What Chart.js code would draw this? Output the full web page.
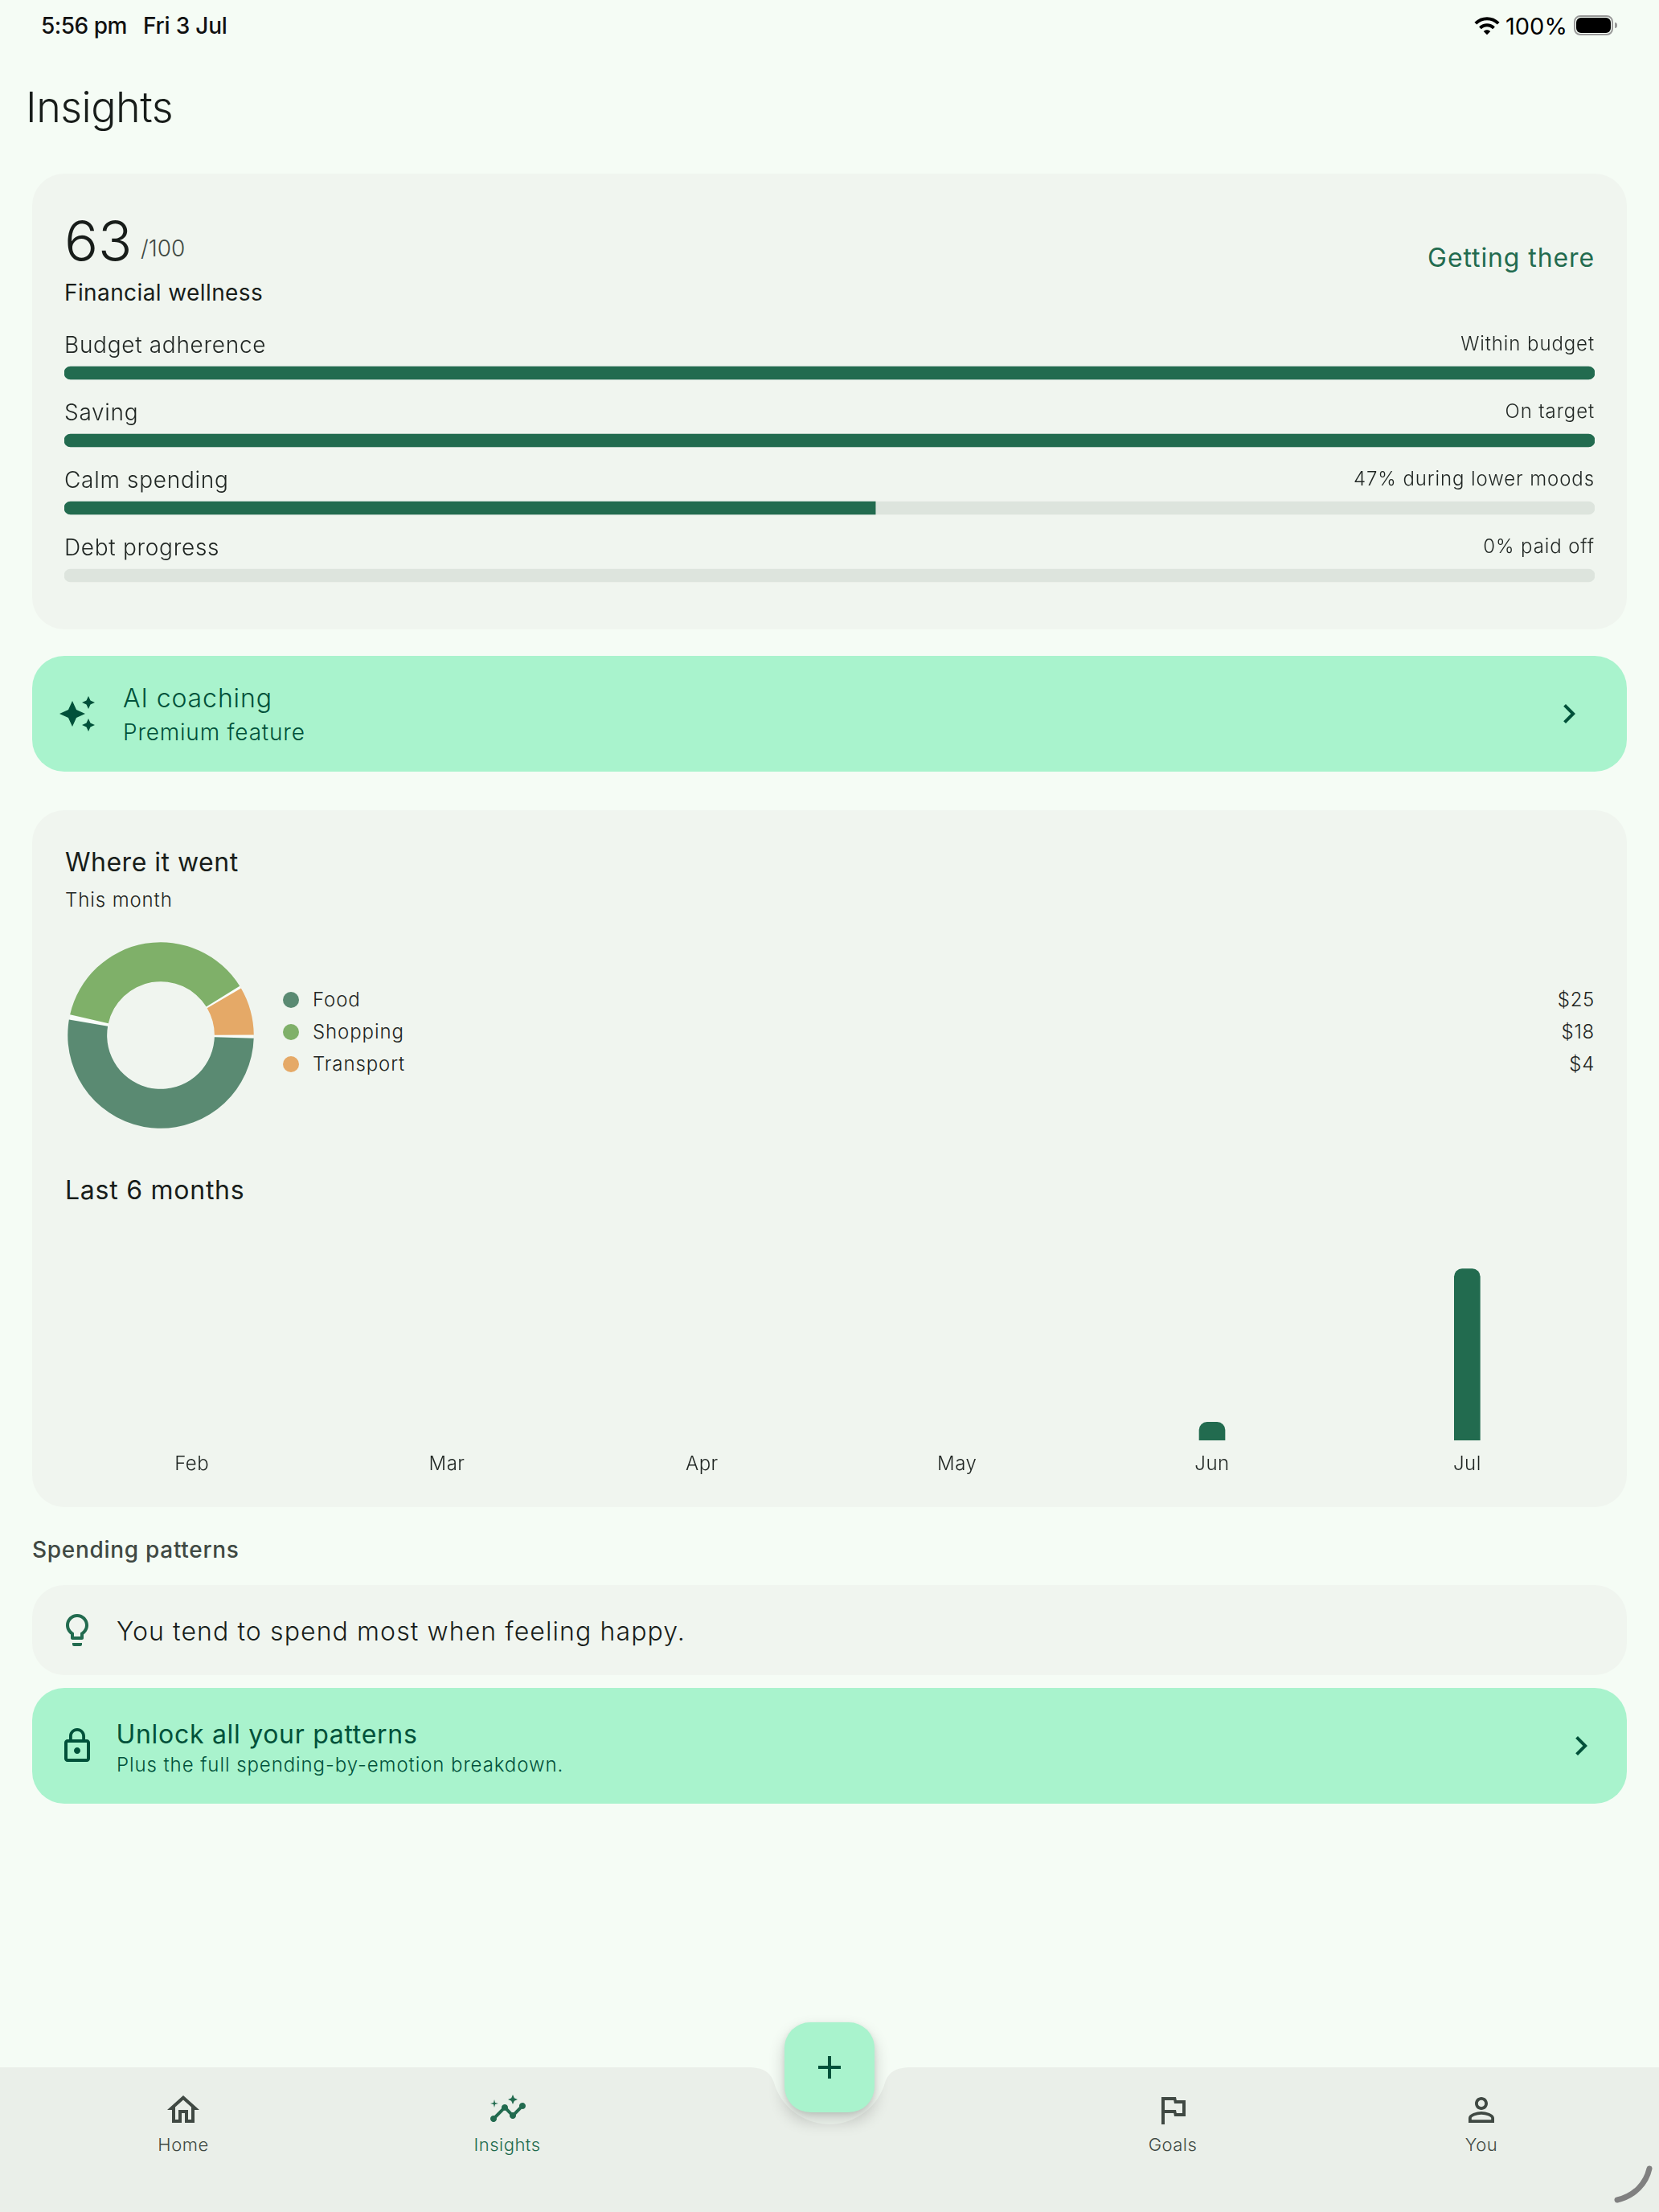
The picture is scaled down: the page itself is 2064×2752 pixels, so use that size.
<!DOCTYPE html>
<html><head><meta charset="utf-8">
<script src="https://cdn.jsdelivr.net/npm/chart.js@4"></script>
<style>
html,body{margin:0;padding:0;background:#f5fcf5;width:2064px;height:2752px;overflow:hidden;font-family:Inter,sans-serif;color:#181d1a}
.box{position:absolute;left:40px;width:1984px;box-sizing:border-box}
.t{position:absolute;white-space:nowrap;line-height:1;transform:translateY(-50%)}
.r{transform:translate(-100%,-50%)}
.c{transform:translate(-50%,-50%)}
canvas{position:absolute;display:block}
svg.i{position:absolute;fill:currentColor}
.dot{position:absolute;width:20px;height:20px;border-radius:50%;transform:translate(-50%,-50%)}
</style></head><body>
<div class="box" style="top:216px;height:567px;background:#f0f5ef;border-radius:40px"></div>
<div class="box" style="top:816px;height:144px;background:#a9f3cd;border-radius:40px"></div>
<div class="box" style="top:1008px;height:867px;background:#f0f5ef;border-radius:40px"></div>
<div class="box" style="top:1972px;height:112px;background:#f0f5ef;border-radius:40px"></div>
<div class="box" style="top:2100px;height:144px;background:#a9f3cd;border-radius:40px"></div>

<svg style="position:absolute;left:0;top:0" width="2064" height="2752">
<path fill="#eaefe9" d="M0 2572H930C950 2572 958 2578 962.6 2590A72 72 0 0 0 1101.4 2590C1106 2578 1114 2572 1134 2572H2064V2752H0Z"/>
<path fill="none" stroke="#808080" stroke-width="7" stroke-linecap="round" d="M2012 2737C2034 2732 2048 2716 2052 2698"/>
</svg>

<div style="position:absolute;left:976px;top:2516px;width:112px;height:112px;border-radius:32px;background:#a9f3cd;box-shadow:0 10px 20px rgba(0,0,0,.2),0 2px 6px rgba(0,0,0,.08)"></div>
<div style="position:absolute;left:1018px;top:2570px;width:28px;height:4px;background:#00513a"></div>
<div style="position:absolute;left:1030px;top:2558px;width:4px;height:28px;background:#00513a"></div>

<canvas id="progress" width="1904" height="336" style="left:80px;top:422px"></canvas>
<canvas id="donut" width="240" height="240" style="left:80px;top:1168px"></canvas>
<canvas id="months" width="1904" height="350" style="left:80px;top:1500px"></canvas>

<div id="text"></div>

<!-- status bar -->
<div class="t" style="left:51px;top:32px;font:500 28px Inter;color:#111;letter-spacing:-.5px">5:56 pm</div>
<div class="t" style="left:178px;top:32px;font:500 28px Inter;color:#111;letter-spacing:-.2px">Fri 3 Jul</div>
<svg class="i" viewBox="0 0 24 24" style="left:1833px;top:15px;width:34px;height:34px;color:#000"><path d="M1 9l2 2c4.97-4.97 13.03-4.97 18 0l2-2C16.93 2.93 7.08 2.93 1 9zm8 8l3 3 3-3c-1.65-1.66-4.34-1.66-6 0zm-4-4l2 2c2.76-2.76 7.24-2.76 10 0l2-2C15.14 9.14 8.87 9.14 5 13z"/></svg>
<div class="t" style="left:1873px;top:32px;font:400 29px Inter;color:#000">100%</div>
<div style="position:absolute;left:1958px;top:19px;width:49px;height:25px;box-sizing:border-box;border:2px solid #999;border-radius:8px"></div>
<div style="position:absolute;left:1961px;top:22px;width:43px;height:19px;background:#000;border-radius:6px"></div>
<div style="position:absolute;left:2009px;top:28px;width:3px;height:7px;background:#999;border-radius:0 3px 3px 0"></div>

<!-- icons -->
<svg class="i" viewBox="0 0 24 24" style="left:72px;top:864px;width:48px;height:48px;color:#00513a"><path d="M19 9l1.25-2.75L23 5l-2.75-1.25L19 1l-1.25 2.75L15 5l2.75 1.25L19 9zm-7.5.5L9 4 6.5 9.5 1 12l5.5 2.5L9 20l2.5-5.5L17 12l-5.5-2.5zM19 15l-1.25 2.75L15 19l2.75 1.25L19 23l1.25-2.75L23 19l-2.75-1.25L19 15z"/></svg>
<svg class="i" viewBox="0 0 24 24" style="left:1928px;top:864px;width:48px;height:48px;color:#00513a"><path d="M10 6L8.59 7.41 13.17 12l-4.58 4.59L10 18l6-6z"/></svg>
<svg class="i" viewBox="0 0 24 24" style="left:72px;top:2004px;width:48px;height:48px;color:#226b4f"><path d="M9 21c0 .55.45 1 1 1h4c.55 0 1-.45 1-1v-1H9v1zm3-19C8.14 2 5 5.14 5 9c0 2.38 1.19 4.47 3 5.74V17c0 .55.45 1 1 1h6c.55 0 1-.45 1-1v-2.26c1.81-1.27 3-3.36 3-5.74 0-3.86-3.14-7-7-7zm2.85 11.1l-.85.6V16h-4v-2.3l-.85-.6C7.8 12.16 7 10.63 7 9c0-2.76 2.24-5 5-5s5 2.24 5 5c0 1.63-.8 3.16-2.15 4.1z"/></svg>
<svg class="i" viewBox="0 0 24 24" style="left:72px;top:2148px;width:48px;height:48px;color:#00513a"><path d="M12 17c1.1 0 2-.9 2-2s-.9-2-2-2-2 .9-2 2 .9 2 2 2zm6-9h-1V6c0-2.76-2.24-5-5-5S7 3.24 7 6v2H6c-1.1 0-2 .9-2 2v10c0 1.1.9 2 2 2h12c1.1 0 2-.9 2-2V10c0-1.1-.9-2-2-2zM8.9 6c0-1.71 1.39-3.1 3.1-3.1s3.1 1.39 3.1 3.1v2H8.9V6zM18 20H6V10h12v10z"/></svg>
<svg class="i" viewBox="0 0 24 24" style="left:1943px;top:2148px;width:48px;height:48px;color:#00513a"><path d="M10 6L8.59 7.41 13.17 12l-4.58 4.59L10 18l6-6z"/></svg>
<svg class="i" viewBox="0 0 24 24" style="left:204px;top:2601px;width:48px;height:48px;color:#404943"><path d="M12 5.69l5 4.5V18h-2v-6H9v6H7v-7.81l5-4.5M12 3L2 12h3v8h6v-6h2v6h6v-8h3L12 3z"/></svg>
<svg class="i" viewBox="0 0 24 24" style="left:608px;top:2600px;width:48px;height:48px;color:#226b4f"><path d="M21 8c-1.45 0-2.26 1.44-1.93 2.51l-3.55 3.56c-.3-.09-.74-.09-1.04 0l-2.55-2.55C12.27 10.45 11.46 9 10 9c-1.45 0-2.27 1.44-1.93 2.52l-4.56 4.55C2.44 15.74 1 16.55 1 18c0 1.1.9 2 2 2 1.45 0 2.26-1.44 1.93-2.51l4.55-4.56c.3.09.74.09 1.04 0l2.55 2.55C12.73 16.55 13.54 18 15 18c1.45 0 2.27-1.44 1.93-2.52l3.56-3.55c1.07.33 2.51-.48 2.51-1.93 0-1.1-.9-2-2-2z"/><path d="M15 9l.94-2.07L18 6l-2.06-.93L15 3l-.92 2.07L12 6l2.08.93zM3.5 11L4 9l2-.5L4 8l-.5-2L3 8l-2 .5L3 9z"/></svg>
<svg class="i" viewBox="0 0 24 24" style="left:1435px;top:2601px;width:48px;height:48px;color:#404943"><path d="M14.4 6L14 4H5v17h2v-7h5.6l.4 2h7V6h-5.6zm3.6 8h-3.6l-.4-2H7V6h5.6l.4 2h5v6z"/></svg>
<svg class="i" viewBox="0 0 24 24" style="left:1819px;top:2601px;width:48px;height:48px;color:#404943"><path d="M12 5.9c1.16 0 2.1.94 2.1 2.1s-.94 2.1-2.1 2.1S9.9 9.16 9.9 8s.94-2.1 2.1-2.1m0 9c2.97 0 6.1 1.46 6.1 2.1v1.1H5.9V17c0-.64 3.13-2.1 6.1-2.1M12 4C9.79 4 8 5.79 8 8s1.79 4 4 4 4-1.79 4-4-1.79-4-4-4zm0 9c-2.67 0-8 1.34-8 4v3h16v-3c0-2.66-5.33-4-8-4z"/></svg>

<script>
const wellnessLabels = ["Budget adherence", "Saving", "Calm spending", "Debt progress"];
const wellnessNotes = ["Within budget", "On target", "47% during lower moods", "0% paid off"];
const wellnessValues = [100, 100, 53, 0];
const wellnessTrack = [100, 100, 100, 100];

const spendCategories = ["Food", "Shopping", "Transport"];
const spendValues = [25, 18, 4];
const spendColors = ["#5a8a72", "#7fb069", "#e5a967"];

const monthLabels = ["Feb", "Mar", "Apr", "May", "Jun", "Jul"];
const monthTotals = [0, 0, 0, 0, 5, 47];

const PRIMARY = "#226b4f", TRACK = "#dde4dd", INK = "#181d1a";

function put(text, x, y, size, color, extra) {
  const e = extra || {};
  const d = document.createElement("div");
  d.className = "t" + (e.align ? " " + e.align : "");
  d.textContent = text;
  d.style.cssText = `left:${x}px;top:${y}px;font-size:${size}px;color:${color};font-weight:${e.w || 400};letter-spacing:${e.ls === undefined ? 0.5 : e.ls}px`;
  document.getElementById("text").appendChild(d);
}

put("Insights", 32, 134, 52, INK, {w: 300, ls: -0.5});
put("63", 80, 300, 70, INK, {w: 300, ls: 0});
put("/100", 175, 309, 28, "#404943", {w: 300, ls: 0});
put("Financial wellness", 80, 364, 28, INK, {ls: 0.4});
put("Getting there", 1984, 321, 32, PRIMARY, {align: "r", ls: 0.9});

wellnessLabels.forEach((label, i) => {
  const y = 428.6 + 84 * i;
  put(label, 80, y, 28, "#1f2522", {w: 300, ls: 0.7});
  put(wellnessNotes[i], 1984, y - 1, 24, "#1f2522", {align: "r", w: 300, ls: 0.9});
});

put("AI coaching", 153, 869, 32, "#00513a", {w: 300, ls: 0.9});
put("Premium feature", 153, 911, 28, "#00513a", {w: 300, ls: 0.8});

put("Where it went", 81, 1073, 32, INK, {ls: 0.5});
put("This month", 81, 1120, 24, "#1f2522", {w: 300, ls: 0.9});
put("Last 6 months", 81, 1481, 32, INK, {ls: 0.75});

spendCategories.forEach((name, i) => {
  const y = 1244 + 40 * i;
  const dot = document.createElement("div");
  dot.className = "dot";
  dot.style.cssText = `left:362px;top:${y}px;background:${spendColors[i]}`;
  document.getElementById("text").appendChild(dot);
  put(name, 389, y, 24, "#1f2522", {w: 300, ls: 0.9});
  put("$" + spendValues[i], 1984, y, 24, "#1f2522", {align: "r", w: 300, ls: 0.7});
});

put("Spending patterns", 40, 1928, 28, "#404943", {w: 500, ls: 0.7});
put("You tend to spend most when feeling happy.", 145, 2030, 32, INK, {w: 300, ls: 1.1});
put("Unlock all your patterns", 144.5, 2158, 32, "#00513a", {ls: 0.7});
put("Plus the full spending-by-emotion breakdown.", 145, 2196, 24, "#00513a", {w: 300, ls: 0.92});

put("Home", 228, 2668, 22, "#404943", {align: "c", w: 300, ls: 0.5});
put("Insights", 631, 2668, 22, PRIMARY, {align: "c", w: 300, ls: 0.5});
put("Goals", 1459, 2668, 22, "#404943", {align: "c", w: 300, ls: 0.5});
put("You", 1843, 2668, 22, "#404943", {align: "c", w: 300, ls: 0.5});

Chart.defaults.font.family = "Inter";
Chart.defaults.animation = false;

const onlyIfPositive = c => c.raw > 0 ? PRIMARY : "transparent";

new Chart(document.getElementById("progress"), {
  type: "bar",
  data: {
    labels: wellnessLabels,
    datasets: [
      {data: wellnessValues, backgroundColor: onlyIfPositive, barThickness: 16, borderSkipped: false,
       borderRadius: c => c.raw === 100 ? 8 : {topLeft: 8, bottomLeft: 8, topRight: 0, bottomRight: 0}},
      {data: wellnessTrack, backgroundColor: TRACK, barThickness: 16, borderSkipped: false, borderRadius: 8}
    ]
  },
  options: {
    indexAxis: "y", responsive: false,
    layout: {padding: 0},
    plugins: {legend: {display: false}, tooltip: {enabled: false}},
    scales: {
      x: {display: false, min: 0, max: 100, stacked: false},
      y: {display: false, stacked: true}
    }
  }
});

const SLICE_GAP = 3.5;
const ringBackdrop = {
  id: "ringBackdrop",
  beforeDatasetsDraw(chart) {
    const a = chart.getDatasetMeta(0).data[0];
    const {ctx} = chart;
    ctx.save();
    ctx.fillStyle = "#f9fdf9";
    ctx.beginPath();
    ctx.arc(a.x, a.y, a.outerRadius + 1, 0, Math.PI * 2);
    ctx.arc(a.x, a.y, a.innerRadius + 1.5, 0, Math.PI * 2, true);
    ctx.fill();
    ctx.restore();
  }
};

new Chart(document.getElementById("donut"), {
  type: "doughnut",
  data: {
    labels: spendCategories,
    datasets: [{data: spendValues, backgroundColor: spendColors, borderWidth: 0, spacing: SLICE_GAP}]
  },
  options: {
    responsive: false, rotation: 90, radius: 114, cutout: 67.5,
    plugins: {legend: {display: false}, tooltip: {enabled: false}}
  },
  plugins: [ringBackdrop]
});

const tickSpacing = {
  id: "tickSpacing",
  beforeDraw(chart) { chart.ctx.letterSpacing = "0.5px"; }
};

new Chart(document.getElementById("months"), {
  type: "bar",
  data: {
    labels: monthLabels,
    datasets: [{data: monthTotals, backgroundColor: onlyIfPositive, barThickness: 32, borderSkipped: "bottom",
      borderRadius: {topLeft: 10, topRight: 10, bottomLeft: 0, bottomRight: 0}}]
  },
  options: {
    responsive: false,
    layout: {padding: 0},
    plugins: {legend: {display: false}, tooltip: {enabled: false}},
    scales: {
      y: {display: false, min: 0, max: 64.3},
      x: {
        grid: {display: false, drawTicks: false}, border: {display: false},
        ticks: {color: "#1f2522", font: {size: 24, weight: 300}, padding: 15, maxRotation: 0},
        afterFit(s) { s.height = 58; }
      }
    }
  },
  plugins: [tickSpacing]
});
</script>
</body></html>
